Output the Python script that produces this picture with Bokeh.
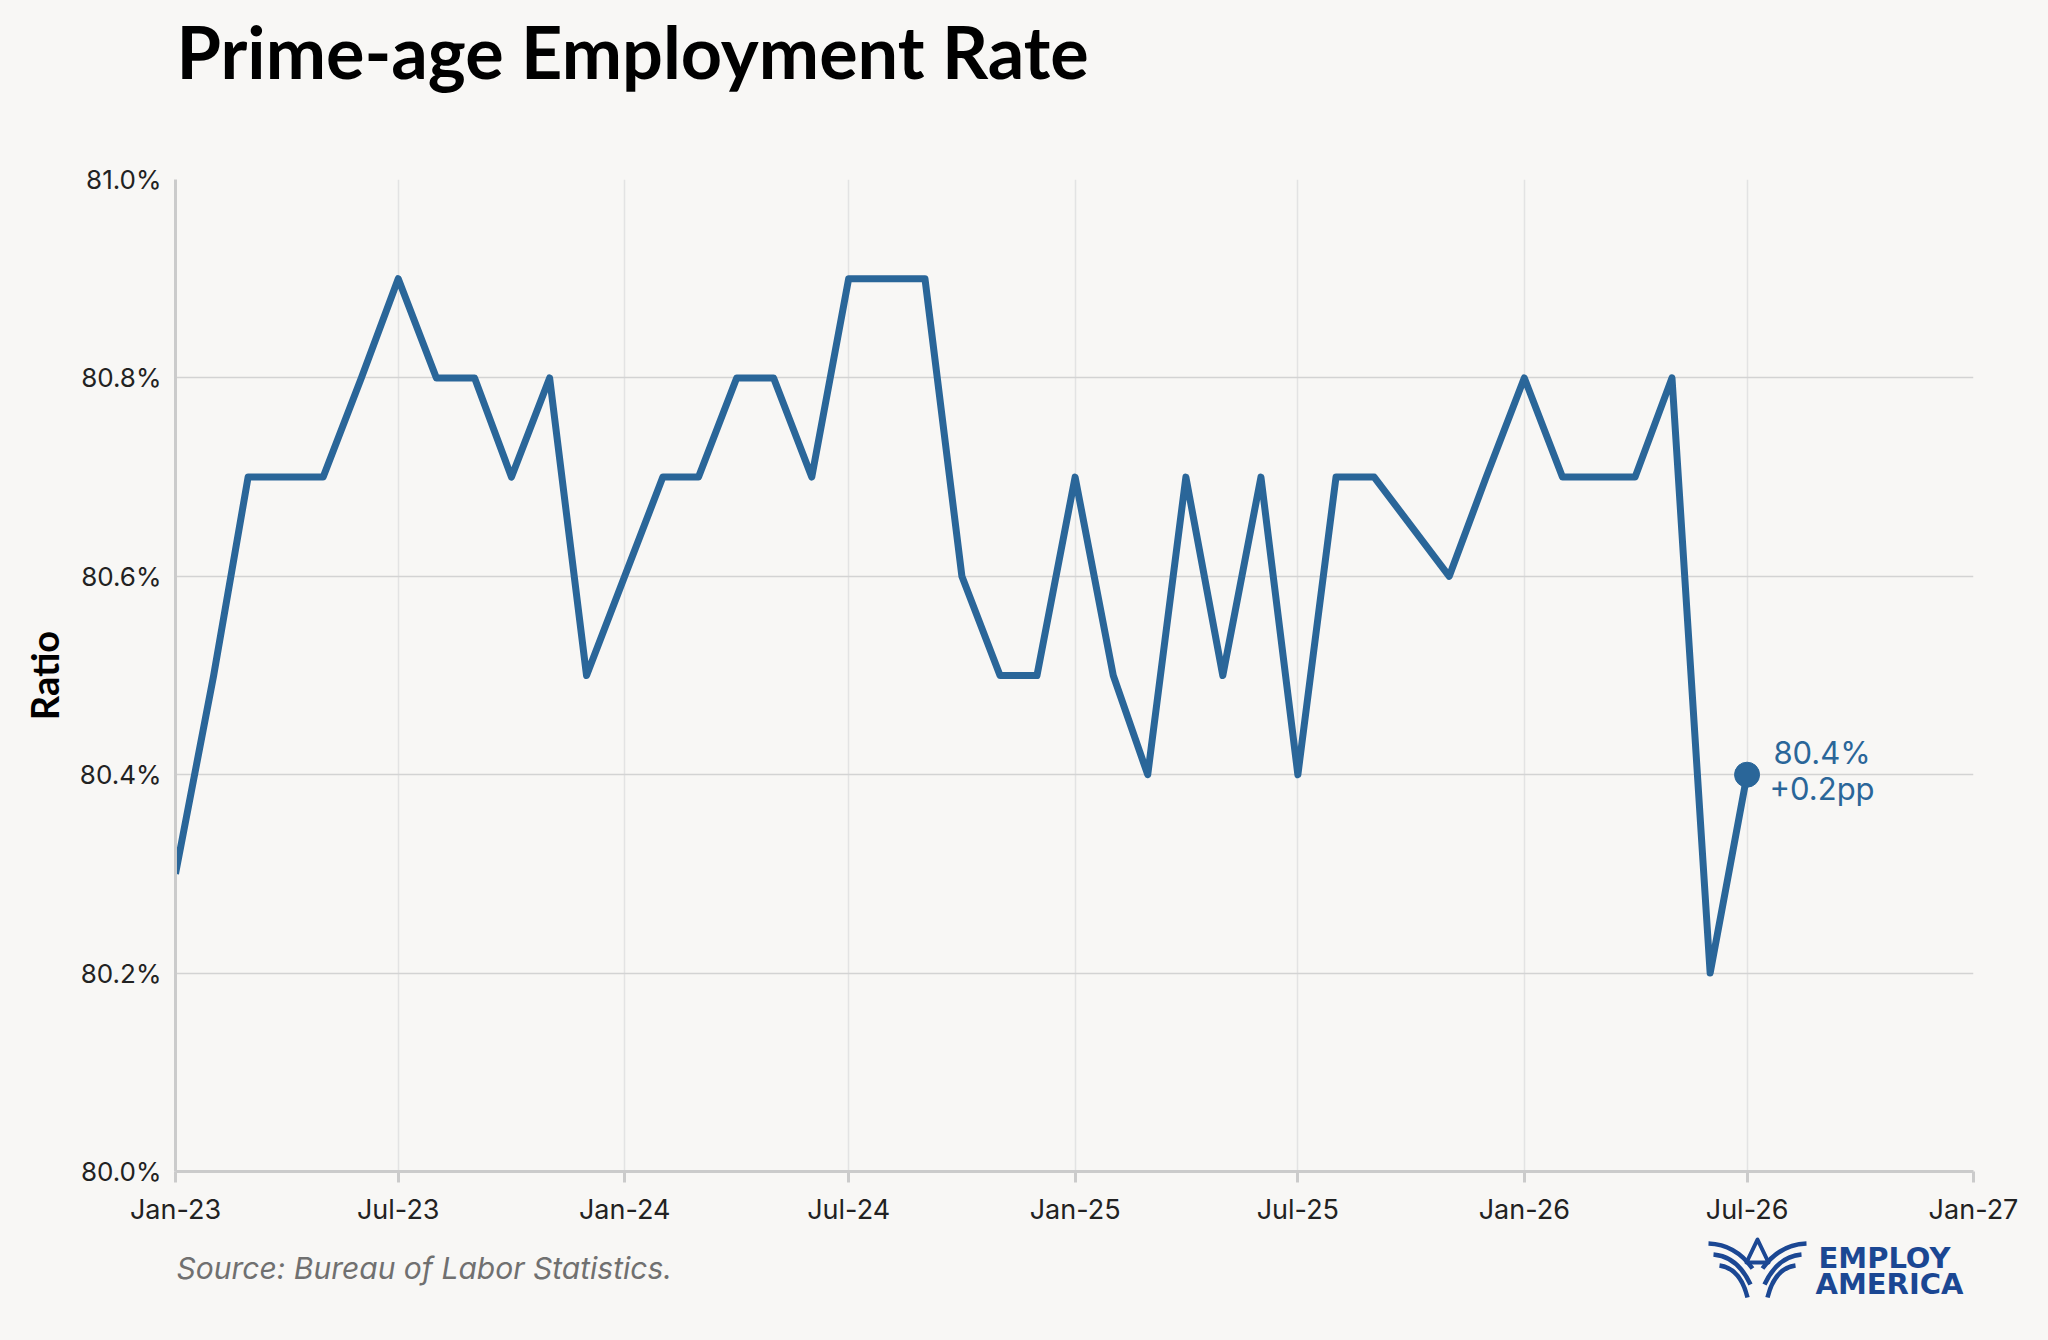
import pandas as pd
from bokeh.plotting import figure
from bokeh.layouts import column
from bokeh.models import Range1d, FixedTicker, DatetimeTickFormatter, PrintfTickFormatter
from bokeh.embed import file_html
from bokeh.resources import INLINE
from bokeh.core.properties import value

# ---------------- data ----------------
months = [
    "2023-01", "2023-02", "2023-03", "2023-04", "2023-05", "2023-06",
    "2023-07", "2023-08", "2023-09", "2023-10", "2023-11", "2023-12",
    "2024-01", "2024-02", "2024-03", "2024-04", "2024-05", "2024-06",
    "2024-07", "2024-08", "2024-09", "2024-10", "2024-11", "2024-12",
    "2025-01", "2025-02", "2025-03", "2025-04", "2025-05", "2025-06",
    "2025-07", "2025-08", "2025-09", "2025-11", "2025-12",
    "2026-01", "2026-02", "2026-03", "2026-04", "2026-05", "2026-06",
    "2026-07",
]
ratio = [
    80.3, 80.5, 80.7, 80.7, 80.7, 80.8,
    80.9, 80.8, 80.8, 80.7, 80.8, 80.5,
    80.6, 80.7, 80.7, 80.8, 80.8, 80.7,
    80.9, 80.9, 80.9, 80.6, 80.5, 80.5,
    80.7, 80.5, 80.4, 80.7, 80.5, 80.7,
    80.4, 80.7, 80.7, 80.6, 80.7,
    80.8, 80.7, 80.7, 80.7, 80.8, 80.2,
    80.4,
]
x_tick_dates = ["2023-01-01", "2023-07-01", "2024-01-01", "2024-07-01", "2025-01-01",
                "2025-07-01", "2026-01-01", "2026-07-01", "2027-01-01"]
y_ticks = [80.0, 80.2, 80.4, 80.6, 80.8, 81.0]

title_text = "Prime-age Employment Rate"
y_label = "Ratio"
source_text = "Source: Bureau of Labor Statistics."
logo_lines = ["EMPLOY", "AMERICA"]

# ---------------- styles ----------------
BG = "#f8f7f5"
LINE = "#2a6699"
AXIS = "#cbcbcb"
NAVY = "#1b4793"
W = 2048
LEFT, RIGHT = 175, 1973          # frame edges in page pixels
BL, BR = LEFT, W - RIGHT         # borders

dates = pd.to_datetime([m + "-01" for m in months])
tick_ms = [pd.Timestamp(d).value / 1e6 for d in x_tick_dates]


def blank(height):
    # strip whose data coordinates equal page pixels (frame aligned with main chart)
    f = figure(width=W, height=height, x_range=Range1d(LEFT, RIGHT), y_range=Range1d(height, 0),
               output_backend="svg", toolbar_location=None,
               min_border_left=BL, min_border_right=BR, min_border_top=0, min_border_bottom=0,
               background_fill_color=BG, border_fill_color=BG, outline_line_color=None)
    f.axis.visible = False
    f.grid.visible = False
    return f


# ---------------- title strip (page y 0-158) ----------------
top = blank(158)
top.text(x=[176], y=[50], text=[title_text], text_font=value("Lato"), text_font_style="bold",
         text_font_size="72px", text_color="#000000", text_baseline="alphabetic", text_align="left")

# ---------------- main chart (page y 158-1232) ----------------
p = figure(width=W, height=1074, x_axis_type="datetime", output_backend="svg", toolbar_location=None,
           x_range=Range1d(tick_ms[0], tick_ms[-1]), y_range=Range1d(y_ticks[0], y_ticks[-1]),
           min_border_left=BL, min_border_right=BR, min_border_top=21, min_border_bottom=61,
           background_fill_color=BG, border_fill_color=BG, outline_line_color=None)

p.line(x=dates, y=ratio, line_width=7, line_color=LINE, line_join="round")
p.scatter(x=[dates[-1]], y=[ratio[-1]], size=25, fill_color=LINE, line_color=LINE)

ann_font = value("Inter")
p.text(x=[dates[-1]], y=[ratio[-1]], text=[f"{ratio[-1]:.1f}%"], x_offset=75, y_offset=-22,
       text_font=ann_font, text_font_size="31px", text_color=LINE,
       text_align="center", text_baseline="alphabetic")
p.text(x=[dates[-1]], y=[ratio[-1]], text=[f"{ratio[-1] - ratio[-2]:+.1f}pp"], x_offset=75, y_offset=14,
       text_font=ann_font, text_font_size="31px", text_color=LINE,
       text_align="center", text_baseline="alphabetic")

xticker = FixedTicker(ticks=tick_ms)
p.xaxis.ticker = xticker
p.xgrid.ticker = xticker
fmt = "%b-%y"
p.xaxis.formatter = DatetimeTickFormatter(days=fmt, months=fmt, years=fmt)
p.yaxis.ticker = FixedTicker(ticks=y_ticks)
p.yaxis.formatter = PrintfTickFormatter(format="%.1f%%")

for ax in (p.xaxis[0], p.yaxis[0]):
    ax.axis_line_color = AXIS
    ax.axis_line_width = 3
    ax.major_tick_line_color = AXIS
    ax.major_tick_line_width = 3
    ax.major_tick_in = 0
    ax.minor_tick_line_color = None
    ax.major_label_text_font = "Inter"
    ax.major_label_text_color = "#222222"

p.xaxis.major_tick_out = 11
p.xaxis.major_label_text_font_size = "27px"
p.xaxis.major_label_standoff = 10
p.yaxis.major_tick_out = 0
p.yaxis.major_label_text_font_size = "26px"
p.yaxis.major_label_standoff = 14
p.yaxis.axis_label = y_label
p.yaxis.axis_label_text_font = "Lato"
p.yaxis.axis_label_text_font_style = "bold"
p.yaxis.axis_label_text_font_size = "38px"
p.yaxis.axis_label_text_color = "#000000"
p.yaxis.axis_label_standoff = 10

p.xgrid.grid_line_color = "#e3e3e3"
p.xgrid.grid_line_width = 1.5
p.ygrid.grid_line_color = "#d3d3d3"
p.ygrid.grid_line_width = 1.5

# ---------------- bottom strip: source + logo (page y 1232-1340) ----------------
bot = blank(108)
bot.text(x=[176], y=[35], text=[source_text], text_font=value("Inter"), text_font_style="italic",
         text_font_size="30px", text_color="#707070", text_baseline="alphabetic", text_align="left")
bot.text(x=[1818, 1815], y=[25, 51], text=logo_lines, text_font=value("DejaVu Sans"),
         text_font_style="bold", text_font_size="29px", text_color=NAVY,
         text_baseline="alphabetic", text_align="left")

# eagle emblem (decorative, in strip pixel coordinates)
cx = 1757
left_x0 = [1708, 1713, 1719]
left_y0 = [11, 22, 33]
left_cx = [1735, 1737, 1740]
left_cy = [12, 24, 36]
left_x1 = [1752, 1750, 1747]
left_y1 = [36, 52, 65]
mir = lambda xs: [2 * cx - v for v in xs]
bot.quadratic(x0=left_x0 + mir(left_x0), y0=left_y0 * 2, x1=left_x1 + mir(left_x1), y1=left_y1 * 2,
              cx=left_cx + mir(left_cx), cy=left_cy * 2, line_color=NAVY, line_width=4.5)
bot.patch(x=[cx, cx - 11, cx + 11], y=[7, 30, 30], fill_color=None, line_color=NAVY, line_width=4,
          line_join="round")

layout = column(top, p, bot, spacing=0)
layout.background = BG

with open("out.html", "w") as fh:
    fh.write(file_html(layout, INLINE, title="Prime-age Employment Rate"))
